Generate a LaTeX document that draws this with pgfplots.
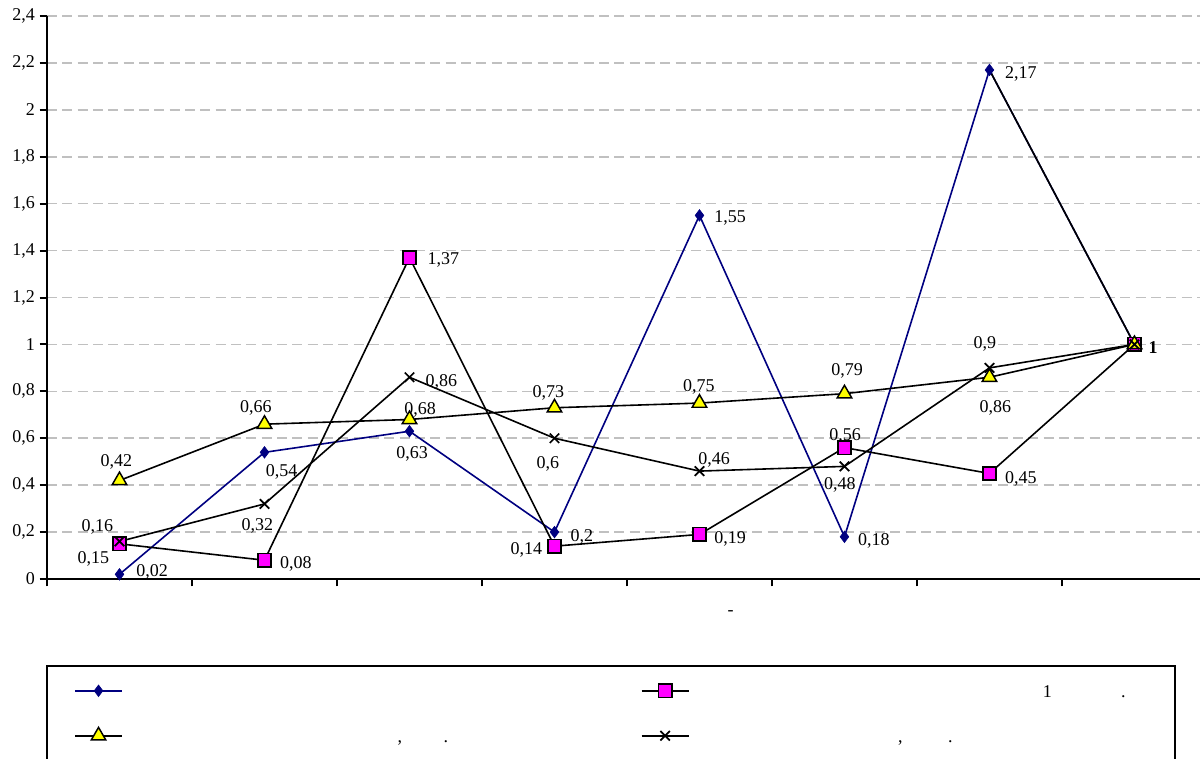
\documentclass[border=0pt]{standalone}
\usepackage{fontspec}
\setmainfont{Liberation Serif}
\usepackage{pgfplots}
\pgfplotsset{compat=1.18}
\definecolor{sNavy}{HTML}{000080}
\definecolor{sMag}{HTML}{FF00FF}
\definecolor{sYel}{HTML}{FFFF00}
\definecolor{gridg}{HTML}{C0C0C0}
\newcommand\fnt{\fontsize{13.5}{16}\selectfont}
\newcommand\lbl[5]{\node[font=\fnt,inner sep=0pt,text depth=0pt,anchor=center,xshift=#3pt,yshift=#4pt] at (axis cs:#1,#2) {#5};}
\newcommand\lp[2]{\rlap{\hspace*{#1}\makebox[0pt]{#2}}}
\newcommand\lt[2]{\makebox[#1][l]{\rule[-0.75pt]{0pt}{12pt}#2}}
\begin{document}
\begin{tikzpicture}
\useasboundingbox (0,0) rectangle (900pt,568.5pt);
\begin{axis}[
  at={(35.25pt,134.25pt)}, anchor=south west,
  scale only axis, width=864.75pt, height=422.25pt,
  xmin=-0.5, xmax=7.452, ymin=0, ymax=2.4,
  clip=false,
  axis x line=bottom, axis y line=left,
  axis line style={-, line width=1.5pt, black},
  xtick={-0.5,0.5,1.5,2.5,3.5,4.5,5.5,6.5}, xticklabels={},
  ytick={0,0.2,0.4,0.6,0.8,1,1.2,1.4,1.6,1.8,2,2.2,2.4},
  tick align=outside, major tick length=5.5pt,
  tick style={line width=1.5pt, black},
  ymajorgrids,
  grid style={gridg, line width=1.2pt, dash pattern=on 7.5pt off 4pt},
  /pgf/number format/.cd, use comma, fixed, assume math mode=true, /pgfplots/.cd,
  yticklabel style={font=\fnt},
  xlabel={-}, xlabel style={font=\fnt, at={(axis description cs:0.593,-0.0604)}, anchor=center},
  legend columns=2,
  legend cell align=left,
  legend style={at={(axis description cs:0.02342,-0.18295)}, anchor=north west,
    draw=none, fill=none, inner sep=0pt, row sep=21pt, column sep=0pt,
    nodes={inner sep=0pt, font=\fnt}},
  legend image code/.code={
    \path[draw=none,fill=none] (0pt,-6pt) rectangle (35.25pt,6pt);
    \draw[mark repeat=2,mark phase=2,#1] plot coordinates {(0pt,0pt) (17.6pt,0pt) (35.25pt,0pt)};
  },
]
\addplot[sNavy, line width=1.2pt, mark=diamond*, mark size=4.3pt, mark options={fill=sNavy, draw=sNavy, line width=0.5pt}]
  coordinates {(0,0.02) (1,0.54) (2,0.63) (3,0.2) (4,1.55) (5,0.18) (6,2.17) (7,1)};
\addlegendentry{\lt{388.5pt}{}}
\addplot[black, line width=1.2pt, mark=square*, mark size=5pt, mark options={fill=sMag, draw=black, line width=1.1pt}]
  coordinates {(0,0.15) (1,0.08) (2,1.37) (3,0.14) (4,0.19) (5,0.56) (6,0.45) (7,1)};
\addlegendentry{\lt{300pt}{\lp{268.5pt}{1}\lp{325.5pt}{.}}}
\addplot[black, line width=1.2pt, mark=triangle*, mark size=6.3pt, mark options={fill=sYel, draw=black, line width=1.1pt}]
  coordinates {(0,0.42) (1,0.66) (2,0.68) (3,0.73) (4,0.75) (5,0.79) (6,0.86) (7,1)};
\addlegendentry{\lt{388.5pt}{\lp{207.75pt}{,}\lp{242.25pt}{.}}}
\addplot[black, line width=1.2pt, mark=x, mark size=5pt, mark options={draw=black, line width=1.3pt}]
  coordinates {(0,0.16) (1,0.32) (2,0.86) (3,0.6) (4,0.46) (5,0.48) (6,0.9) (7,1)};
\addlegendentry{\lt{300pt}{\lp{158.25pt}{,}\lp{195.75pt}{.}}}
\addplot[black, line width=1.2pt, forget plot] coordinates {(6,2.17) (7,1)};
% series 1 labels
\lbl{0}{0.02}{24.4}{3.2}{0,02}
\lbl{1}{0.54}{12.8}{-13.3}{0,54}
\lbl{2}{0.63}{1.9}{-15.6}{0,63}
\lbl{3}{0.2}{20.6}{-2.2}{0,2}
\lbl{4}{1.55}{22.9}{-1.2}{1,55}
\lbl{5}{0.18}{22.1}{-1.7}{0,18}
\lbl{6}{2.17}{23.6}{-2.3}{2,17}
\lbl{7}{1}{13.9}{-2}{\textbf{1}}
% series 2 labels
\lbl{0}{0.15}{-19.5}{-9.9}{0,15}
\lbl{1}{0.08}{23.6}{-1.4}{0,08}
\lbl{2}{1.37}{25.5}{-1}{1,37}
\lbl{3}{0.14}{-21}{-1.4}{0,14}
\lbl{4}{0.19}{22.9}{-2}{0,19}
\lbl{5}{0.56}{0.4}{9.5}{0,56}
\lbl{6}{0.45}{23.6}{-2.7}{0,45}
% series 3 labels
\lbl{0}{0.42}{-2.3}{14.6}{0,42}
\lbl{1}{0.66}{-6.4}{12.9}{0,66}
\lbl{2}{0.68}{7.9}{8.6}{0,68}
\lbl{3}{0.73}{-4.5}{11.9}{0,73}
\lbl{4}{0.75}{-0.4}{12.8}{0,75}
\lbl{5}{0.79}{1.9}{17.8}{0,79}
\lbl{6}{0.86}{4.5}{-22.3}{0,86}
% series 4 labels
\lbl{0}{0.16}{-16.5}{11.6}{0,16}
\lbl{1}{0.32}{-5.3}{-15.1}{0,32}
\lbl{2}{0.86}{24}{-2.8}{0,86}
\lbl{3}{0.6}{-4.9}{-18.5}{0,6}
\lbl{4}{0.46}{10.9}{9.8}{0,46}
\lbl{5}{0.48}{-3.4}{-12.5}{0,48}
\lbl{6}{0.9}{-3.4}{18.7}{0,9}
\end{axis}
\draw[black, line width=1.5pt] (35.25pt,69pt) rectangle (881.25pt,-10pt);
\end{tikzpicture}
\end{document}
